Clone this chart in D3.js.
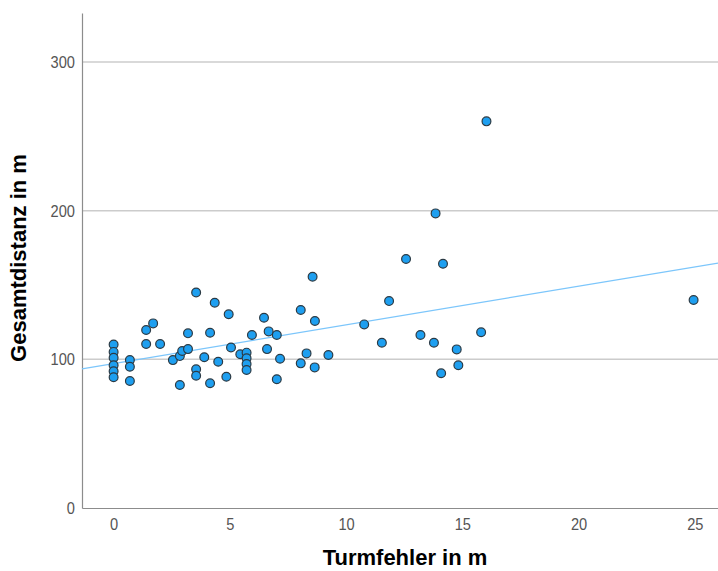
<!DOCTYPE html>
<html>
<head>
<meta charset="utf-8">
<script src="https://cdn.jsdelivr.net/npm/d3@7"></script>
<style>
  body { margin: 0; background: #fff; }
  svg { display: block; }
</style>
</head>
<body>
<div id="chart"></div>
<script>
// Turmfehler (m) und Gesamtdistanz (m)
var turmfehler = [0, 0, 0, 0, 0, 0, 0.7, 0.7, 0.7, 1.4, 1.4, 1.7, 2.0, 2.55, 2.85, 2.85, 2.95,
  3.2, 3.2, 3.55, 3.55, 3.55, 3.9, 4.15, 4.15, 4.35, 4.5, 4.85, 4.95, 5.05, 5.45,
  5.72, 5.72, 5.72, 5.72, 5.95, 6.47, 6.6, 6.67, 7.02, 7.02, 7.16,
  8.05, 8.05, 8.3, 8.56, 8.66, 8.65, 9.24, 10.78, 11.54, 11.85,
  12.58, 13.85, 14.17, 13.2, 13.78, 14.76, 15.81, 14.83, 14.09, 16.04, 24.95];
var gesamtdistanz = [110, 105, 101, 96, 92, 88, 99.5, 95, 85.4, 119.7, 110.3, 124.2, 110.3, 99.5, 102.2, 82.7, 105.6,
  117.5, 106.9, 145, 93.3, 89, 101.4, 117.9, 83.9, 138.1, 98.4, 88.3, 130.3, 108, 103.4,
  104.5, 100.7, 96.9, 92.8, 116.4, 128, 106.9, 118.8, 116.4, 86.6, 100.4,
  133.2, 97.3, 104, 155.6, 125.8, 94.6, 102.9, 123.5, 111.2, 139.2,
  167.5, 198.2, 164.3, 116.4, 111.2, 106.7, 118.2, 96, 90.6, 260.1, 139.9];
var xTicks = [0, 5, 10, 15, 20, 25];
var yTicks = [0, 100, 200, 300];
var fitIntercept = 97.2;
var fitSlope = 2.6;

var W = 718, H = 571;
var margin = {left: 82, right: 0, top: 13, bottom: 63};

var svg = d3.select("#chart").append("svg")
  .attr("width", W).attr("height", H);

var x = d3.scaleLinear().domain([-1.36, 26.0]).range([margin.left, W - margin.right]);
var y = d3.scaleLinear().domain([0, 333]).range([H - margin.bottom, margin.top]);

// gridlines
svg.append("g").selectAll("line")
  .data(yTicks.filter(function(d) { return d > 0; }))
  .enter().append("line")
  .attr("x1", margin.left).attr("x2", W)
  .attr("y1", function(d) { return y(d); })
  .attr("y2", function(d) { return y(d); })
  .attr("stroke", "#cccccc").attr("stroke-width", 1.5);

// axes
var yAxis = svg.append("g")
  .attr("transform", "translate(" + margin.left + ",0)")
  .call(d3.axisLeft(y).tickValues(yTicks).tickSize(0).tickPadding(7));
var xAxis = svg.append("g")
  .attr("transform", "translate(0," + (H - margin.bottom) + ")")
  .call(d3.axisBottom(x).tickValues(xTicks).tickSize(0).tickPadding(10));

[xAxis, yAxis].forEach(function(a) {
  a.select(".domain").attr("stroke", "#8c8c8c").attr("stroke-width", 1.2);
  a.selectAll("text")
    .attr("fill", "#555")
    .style("font-family", "'Liberation Sans', Arial, sans-serif")
    .style("font-size", "17px")
    .each(function() {
      // schmale Schrift nachahmen
      var len = this.getComputedTextLength();
      d3.select(this).attr("textLength", len * 0.86).attr("lengthAdjust", "spacingAndGlyphs");
    });
});

// Regressionslinie
var xd = x.domain();
svg.append("line")
  .attr("x1", x(xd[0])).attr("y1", y(fitIntercept + fitSlope * xd[0]))
  .attr("x2", x(xd[1])).attr("y2", y(fitIntercept + fitSlope * xd[1]))
  .attr("stroke", "#7cc6fb").attr("stroke-width", 1.3);

// Punkte
svg.append("g").selectAll("circle")
  .data(d3.range(turmfehler.length))
  .enter().append("circle")
  .attr("cx", function(i) { return x(turmfehler[i]); })
  .attr("cy", function(i) { return y(gesamtdistanz[i]); })
  .attr("r", 4.4)
  .attr("fill", "#1e9ff0")
  .attr("stroke", "#2b3a44")
  .attr("stroke-width", 1.2);

// Achsentitel
svg.append("text")
  .attr("x", 405).attr("y", 565)
  .attr("text-anchor", "middle")
  .style("font-family", "'Liberation Sans', Arial, sans-serif")
  .style("font-weight", "bold").style("font-size", "22px")
  .text("Turmfehler in m");

svg.append("text")
  .attr("transform", "translate(26,258) rotate(-90)")
  .attr("text-anchor", "middle")
  .style("font-family", "'Liberation Sans', Arial, sans-serif")
  .style("font-weight", "bold").style("font-size", "22px")
  .text("Gesamtdistanz in m");
</script>
</body>
</html>
